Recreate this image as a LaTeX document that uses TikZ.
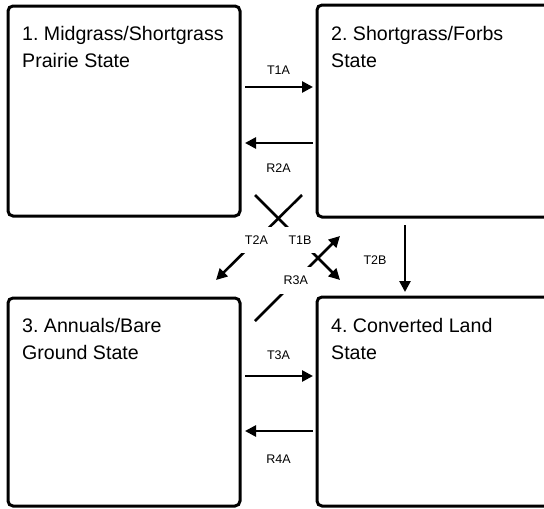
\documentclass[tikz,border=0pt]{standalone}
\usepackage{fontspec}
\setmainfont{Liberation Sans}
\usetikzlibrary{arrows.meta}
\frenchspacing
\begin{document}
\begin{tikzpicture}[x=1pt,y=-1pt,
  box/.style={draw, line width=3pt, rounded corners=5pt, anchor=north west, inner sep=0pt, outer sep=0pt},
  st/.style={anchor=north west, align=left, inner sep=0pt, font=\fontsize{19.6}{27}\selectfont},
  arr/.style={line width=2.6pt, -{Triangle[length=11pt,width=11pt]}},
  lbl/.style={font=\fontsize{12.5}{14}\selectfont, inner sep=0pt},
  cutlbl/.style={font=\fontsize{12.5}{14}\selectfont, fill=white, inner xsep=8pt, inner ysep=9pt}]
\useasboundingbox (0,0) rectangle (544,509);
\clip (0,0) rectangle (544,509);
% boxes
\node[box, minimum width=232pt, minimum height=210pt] (b1) at (8,6) {};
\node[box, minimum width=243pt, minimum height=212pt] (b2) at (317,5) {};
\node[box, minimum width=232pt, minimum height=208pt] (b3) at (8,298) {};
\node[box, minimum width=243pt, minimum height=209pt] (b4) at (317,297) {};
% texts
\node[st] (s1) at (22,26) {1. Midgrass/Shortgrass\\Prairie State};
\node[st] (s2) at (331,26) {2. Shortgrass/Forbs\\State};
\node[st] (s3) at (22,318) {3. Annuals/Bare\\Ground State};
\node[st] (s4) at (331,318) {4. Converted Land\\State};
% horizontal arrows
\draw[arr, shorten <=5pt, shorten >=4pt] (b1.east |- 0,87) -- (b2.west |- 0,87)
  node[lbl, midway, yshift=17pt] (l1) {T1A};
\draw[arr, shorten <=4pt, shorten >=5pt] (b2.west |- 0,143) -- (b1.east |- 0,143)
  node[lbl, midway, yshift=-25pt] (l2) {R2A};
\draw[arr, shorten <=5pt, shorten >=4pt] (b3.east |- 0,376) -- (b4.west |- 0,376)
  node[lbl, midway, yshift=21pt] (l3) {T3A};
\draw[arr, shorten <=4pt, shorten >=5pt] (b4.west |- 0,431) -- (b3.east |- 0,431)
  node[lbl, midway, yshift=-28pt] (l4) {R4A};
% vertical arrow
\draw[arr, shorten <=8pt, shorten >=5pt] (b2.south -| 405,0) -- (b4.north -| 405,0);
\node[lbl] (l5) at (375,260) {T2B};
% diagonal arrows
\coordinate (t1bs) at (255,195);
\coordinate (t1be) at (340,280);
\coordinate (t2as) at (302,195);
\coordinate (t2ae) at (216,280);
\coordinate (r3as) at (255,321);
\coordinate (r3ae) at (340,236);
\draw[arr] (t1bs) -- (t1be) node[cutlbl, pos=0.53] (l6) {T1B};
\draw[arr] (t2as) -- (t2ae) node[cutlbl, pos=0.53] (l7) {T2A};
\draw[arr] (r3as) -- (r3ae) node[cutlbl, pos=0.48] (l8) {R3A};
\end{tikzpicture}
\end{document}
